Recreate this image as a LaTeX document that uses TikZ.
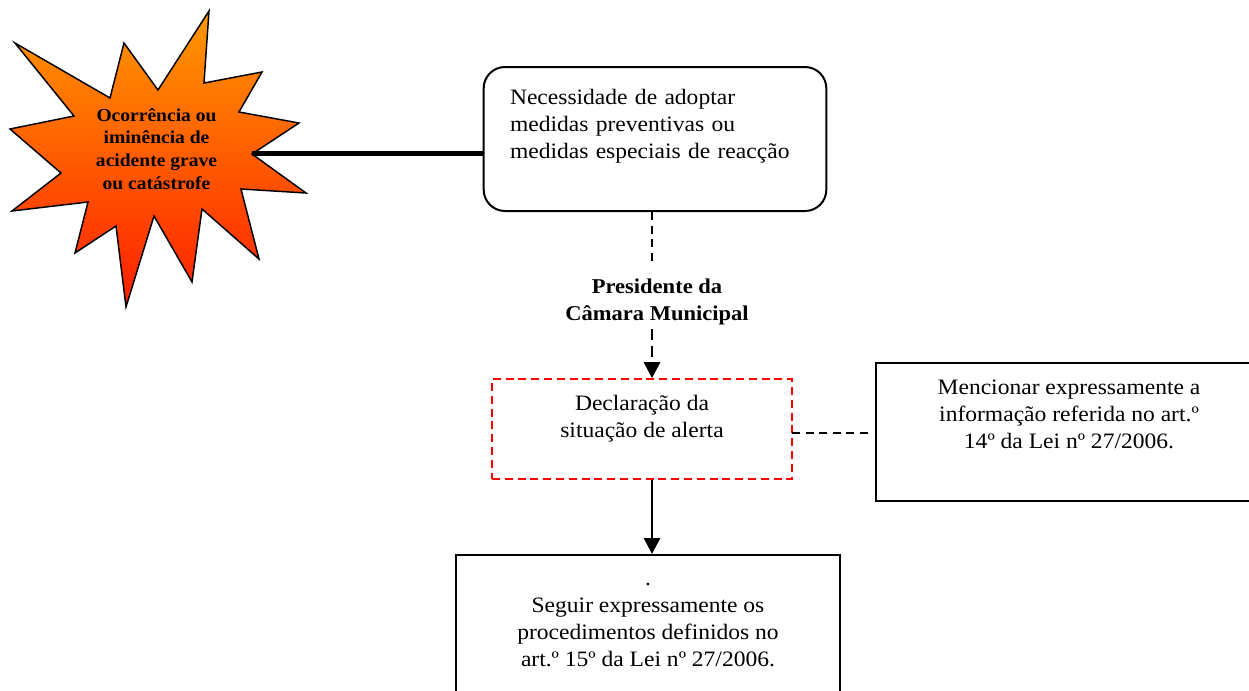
\documentclass[tikz,border=0pt]{standalone}
\usepackage{fontspec}
\setmainfont[FakeStretch=1.07]{Liberation Serif}
\usetikzlibrary{arrows.meta,positioning}
\definecolor{bursttop}{RGB}{255,153,0}
\definecolor{burstbottom}{RGB}{255,30,0}
\tikzset{
    boxtext/.style={font=\fontsize{16.5pt}{20.25pt}\selectfont, align=center},
    plainbox/.style={rectangle, draw=black, line width=1.5pt, boxtext, inner sep=0pt},
    alertbox/.style={plainbox, draw=red, line width=1.2pt, dash pattern=on 6pt off 3.6pt},
    startext/.style={font=\fontsize{13.7pt}{17.1pt}\selectfont\bfseries, align=center},
    linkdash/.style={draw=black, line width=1.4pt, dash pattern=on 6pt off 4.2pt},
    linkarrow/.style={line width=2.2pt, -{Triangle[width=12pt,length=12pt]}}
}
\begin{document}
\begin{tikzpicture}[x=0.75pt, y=-0.75pt]
    \useasboundingbox (0,0) rectangle (1249,690);
    \clip (0,0) rectangle (1249,690);

    % burst
    \shade[top color=bursttop, bottom color=burstbottom, draw=black, line width=1.1pt, miter limit=20]
        (209,11) -- (204,83) -- (262,72) -- (239,112) -- (299,123) -- (252,154)
        -- (306,193) -- (241,189) -- (259,259) -- (202,209) -- (192,282) -- (154,216)
        -- (126,307) -- (116,226) -- (75,253) -- (88,202) -- (12,211) -- (61,173)
        -- (10,129) -- (74,116) -- (15,43) -- (110,98) -- (124,43) -- (158,90) -- cycle;
    \coordinate (bursttip) at (252,153.5);
    \node[startext] (burst) at (156.5,149) {Ocorrência ou\\iminência de\\acidente grave\\ou catástrofe};

    % boxes
    \node[plainbox, rounded corners=16pt, minimum width=257pt, minimum height=108pt, align=left, text width=217.5pt] (need) at (655,139)
        {Necessidade de adoptar\\medidas preventivas ou\\medidas especiais de reacção\\[2.25pt]\mbox{}};
    \node[boxtext, font=\fontsize{15.8pt}{20.25pt}\selectfont\bfseries] (president) at (657,301.5) {Presidente da\\Câmara Municipal};
    \node[alertbox, minimum width=225pt, minimum height=75pt] (alert) at (642,429)
        {Declaração da\\situação de alerta\\[-1.5pt]};
    \node[plainbox, minimum width=289pt, minimum height=103.5pt] (mention) at (1069,432)
        {Mencionar expressamente a\\informação referida no art.º\\14º da Lei nº 27/2006.\\[6.75pt]};
    \node[plainbox, minimum width=288pt, minimum height=105pt] (follow) at (648,625)
        {.\\Seguir expressamente os\\procedimentos definidos no\\art.º 15º da Lei nº 27/2006.};

    % connectors
    \coordinate (axis) at (652,0);
    \coordinate (mentionend) at (870,433);
    \coordinate (alertside) at (792,433);
    \draw[line width=3.6pt] (bursttip) -- (need.west |- bursttip);
    \draw[linkdash] (need.south -| axis) -- ([yshift=7pt]president.north -| axis);
    \draw[linkdash, line width=2.2pt, dash pattern=on 8pt off 4.5pt, -{Triangle[width=12pt,length=12pt]}] (president.south -| axis) -- (alert.north -| axis);
    \draw[linkarrow] (alert.south -| axis) -- (follow.north -| axis);
    \draw[linkdash] (alertside) -- (mentionend);
\end{tikzpicture}
\end{document}
